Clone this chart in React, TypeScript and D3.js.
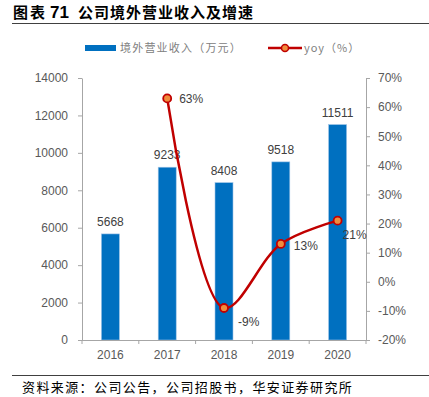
import * as d3 from 'd3';
import React, { useEffect, useRef } from 'react';

const years = ['2016', '2017', '2018', '2019', '2020'];
const revenue = [5668, 9233, 8408, 9518, 11511];
const yoy: (number | null)[] = [null, 63, -9, 13, 21];
const leftTicks = [0, 2000, 4000, 6000, 8000, 10000, 12000, 14000];
const rightTicks = [-20, -10, 0, 10, 20, 30, 40, 50, 60, 70];

const W = 429;
const H = 397;
const mL = 82;
const mR = 63;
const mT = 78;
const mB = 57;

const App = () => {
    const svgRef = useRef<SVGSVGElement | null>(null);

    useEffect(() => {
        const svg = d3.select(svgRef.current);
        svg.selectAll('*').remove();
        const font = '"Liberation Sans", Arial, sans-serif';
        const cjk = '"Noto Sans CJK SC", sans-serif';
        const grey = '#595959';

        const x = d3.scaleBand().domain(years).range([mL, W - mR]);
        const yL = d3.scaleLinear().domain([0, 14000]).range([H - mB, mT]);
        const yR = d3.scaleLinear().domain([-20, 70]).range([H - mB, mT]);

        // title
        const title = svg.append('text')
            .attr('x', 13)
            .attr('y', 18)
            .attr('font-family', cjk)
            .attr('font-weight', 'bold')
            .attr('font-size', 15)
            .attr('fill', '#000');
        title.append('tspan').attr('letter-spacing', 2).text('图表');
        title.append('tspan').attr('x', 50).attr('font-family', font).attr('font-size', 17).text('71');
        title.append('tspan').attr('x', 78).attr('letter-spacing', 1).text('公司境外营业收入及增速');
        svg.append('line')
            .attr('x1', 12).attr('x2', W)
            .attr('y1', 23.5).attr('y2', 23.5)
            .attr('stroke', '#404040').attr('stroke-width', 1.2);

        // legend
        svg.append('rect').attr('x', 85).attr('y', 45).attr('width', 31).attr('height', 6).attr('fill', '#0070C0');
        svg.append('text').attr('x', 120).attr('y', 52).attr('font-family', cjk).attr('font-size', 11)
            .attr('letter-spacing', 1.2).attr('fill', '#808080').text('境外营业收入（万元）');
        svg.append('line').attr('x1', 268).attr('x2', 302).attr('y1', 48).attr('y2', 48)
            .attr('stroke', '#C00000').attr('stroke-width', 2.5);
        svg.append('circle').attr('cx', 285).attr('cy', 48).attr('r', 3.5)
            .attr('fill', '#F08C3C').attr('stroke', '#C00000').attr('stroke-width', 1.5);
        svg.append('text').attr('x', 304).attr('y', 52).attr('font-family', cjk).attr('font-size', 11)
            .attr('letter-spacing', 1).attr('fill', '#808080').text('yoy（%）');

        // bars
        const bw = 18;
        svg.append('g').selectAll('rect').data(revenue).join('rect')
            .attr('x', (d, i) => x(years[i])! + x.bandwidth() / 2 - bw / 2)
            .attr('y', (d) => yL(d))
            .attr('width', bw)
            .attr('height', (d) => yL(0) - yL(d))
            .attr('fill', '#0070C0')
            .attr('stroke', '#9DC3E6')
            .attr('stroke-width', 0.6);
        svg.append('g').selectAll('text').data(revenue).join('text')
            .attr('x', (d, i) => x(years[i])! + x.bandwidth() / 2)
            .attr('y', (d) => yL(d) - 8)
            .attr('text-anchor', 'middle')
            .attr('font-family', font)
            .attr('font-size', 12)
            .attr('fill', '#404040')
            .text((d) => d);

        // axes
        const axisStyle = (g: any) => {
            g.select('.domain').attr('stroke', '#A6A6A6');
            g.selectAll('.tick line').attr('stroke', '#A6A6A6');
            g.selectAll('text').attr('fill', grey).attr('font-family', font).attr('font-size', 12);
        };
        svg.append('g')
            .attr('transform', `translate(${mL},0)`)
            .call(d3.axisLeft(yL).tickValues(leftTicks).tickSize(4).tickSizeOuter(0).tickPadding(10).tickFormat((d) => String(d)))
            .call(axisStyle);
        svg.append('g')
            .attr('transform', `translate(${W - mR},0)`)
            .call(d3.axisRight(yR).tickValues(rightTicks).tickSize(4).tickSizeOuter(0).tickPadding(8).tickFormat((d) => `${d}%`))
            .call(axisStyle);
        const xb = svg.append('g')
            .attr('transform', `translate(0,${H - mB})`)
            .call(d3.axisBottom(x).tickSize(0).tickPadding(10))
            .call(axisStyle);
        xb.select('.domain').attr('d', `M${mL - 4},0.5H${W - mR + 4}`);
        xb.selectAll('line.sep').data([...years.map((yy) => x(yy)!), W - mR]).join('line')
            .attr('class', 'sep')
            .attr('x1', (d) => d).attr('x2', (d) => d)
            .attr('y1', 0).attr('y2', 4)
            .attr('stroke', '#A6A6A6');

        // yoy line
        const pts = years.map((yy, i) => ({ x: x(yy)! + x.bandwidth() / 2, v: yoy[i] })).filter((p) => p.v !== null) as { x: number; v: number }[];
        const line = d3.line<{ x: number; v: number }>()
            .x((d) => d.x)
            .y((d) => yR(d.v))
            .curve(d3.curveCatmullRom.alpha(0.5));
        svg.append('path').datum(pts).attr('d', line)
            .attr('fill', 'none').attr('stroke', '#C00000').attr('stroke-width', 2.5);
        svg.append('g').selectAll('circle').data(pts).join('circle')
            .attr('cx', (d) => d.x).attr('cy', (d) => yR(d.v)).attr('r', 4)
            .attr('fill', '#F08C3C').attr('stroke', '#C00000').attr('stroke-width', 1.8);
        const offs = [[12, 5], [14, 18], [13, 6], [5, 18]];
        svg.append('g').selectAll('text').data(pts).join('text')
            .attr('x', (d, i) => d.x + offs[i][0])
            .attr('y', (d, i) => yR(d.v) + offs[i][1])
            .attr('font-family', font).attr('font-size', 12).attr('fill', '#404040')
            .text((d) => `${d.v}%`);

        // footer
        svg.append('line')
            .attr('x1', 12).attr('x2', W)
            .attr('y1', 375.5).attr('y2', 375.5)
            .attr('stroke', '#404040').attr('stroke-width', 1.2);
        svg.append('text')
            .attr('x', 22).attr('y', 392)
            .attr('font-family', cjk).attr('font-size', 13).attr('letter-spacing', 1.4).attr('fill', '#000')
            .text('资料来源：公司公告，公司招股书，华安证券研究所');
    }, []);

    return (
        <svg
            ref={svgRef}
            width={W}
            height={H}
            style={{ position: 'absolute', left: 0, top: 0, background: '#fff' }}
        />
    );
};

export default App;
